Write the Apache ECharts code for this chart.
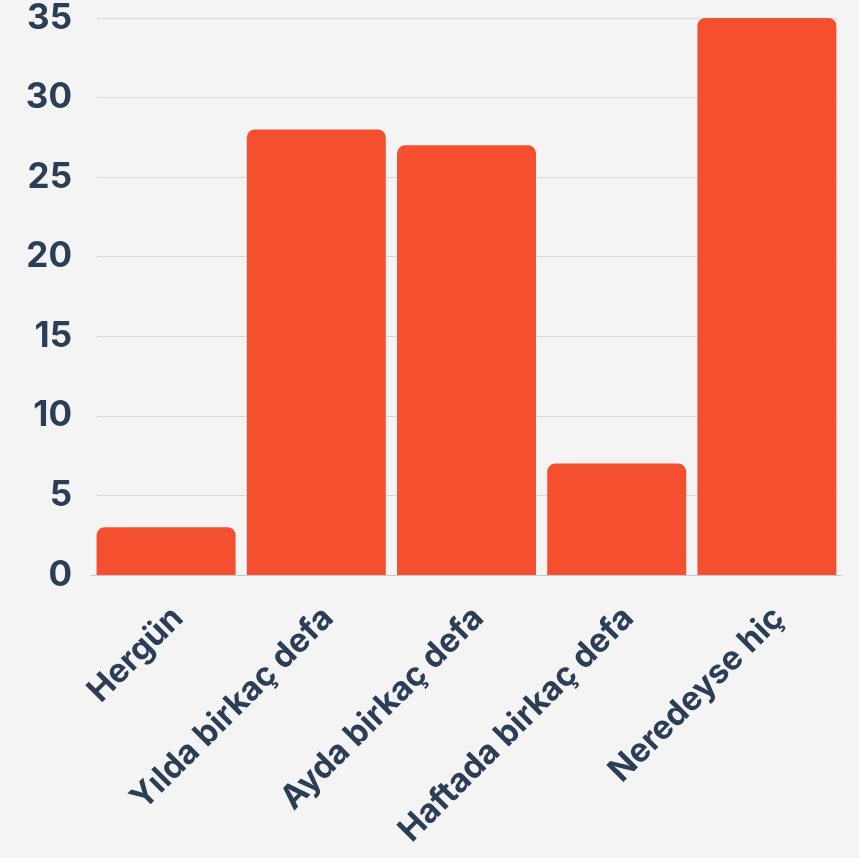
<!DOCTYPE html>
<html>
<head>
<meta charset="utf-8">
<script src="https://cdn.jsdelivr.net/npm/echarts@6/dist/echarts.min.js"></script>
<style>
html,body{margin:0;padding:0;background:#f4f4f4;}
#chart{width:859px;height:858px;}
</style>
</head>
<body>
<div id="chart"></div>
<script>
const categories = ["Hergün", "Yılda birkaç defa", "Ayda birkaç defa", "Haftada birkaç defa", "Neredeyse hiç"];
const values = [3, 28, 27, 7, 35];
const yTicks = { min: 0, max: 35, interval: 5 };

const textColor = '#2c3e56';
const font = 'Inter';
const chart = echarts.init(document.getElementById('chart'));
chart.setOption({
  backgroundColor: '#f4f4f4',
  animation: false,
  grid: [
    { left: 97, right: 22, top: 18, bottom: 283 },
    { left: 91, right: 17, top: 18, bottom: 283 }
  ],
  xAxis: [
    { gridIndex: 0, type: 'category', data: categories, show: false },
    {
      gridIndex: 1, type: 'category', data: categories,
      axisLine: { show: true, lineStyle: { color: '#c4cad1', width: 1 } },
      axisTick: { show: false },
      axisLabel: {
        rotate: 45, interval: 0, margin: 26, verticalAlign: 'top', align: 'right',
        color: textColor, fontFamily: font, fontWeight: 700, fontSize: 33
      }
    }
  ],
  yAxis: [
    {
      gridIndex: 0, type: 'value', min: yTicks.min, max: yTicks.max, interval: yTicks.interval,
      axisLine: { show: false }, axisTick: { show: false },
      splitLine: { lineStyle: { color: '#d5d9de', width: 1 } },
      axisLabel: { margin: 25, color: textColor, fontFamily: font, fontWeight: 700, fontSize: 35 }
    },
    {
      gridIndex: 1, type: 'value', min: yTicks.min, max: yTicks.max, interval: yTicks.interval,
      show: false, splitLine: { show: false }
    }
  ],
  series: [{
    type: 'bar', xAxisIndex: 1, yAxisIndex: 1,
    data: values, barWidth: 139,
    itemStyle: { color: '#f4502f', borderRadius: [8, 8, 0, 0] }
  }]
});
</script>
</body>
</html>
